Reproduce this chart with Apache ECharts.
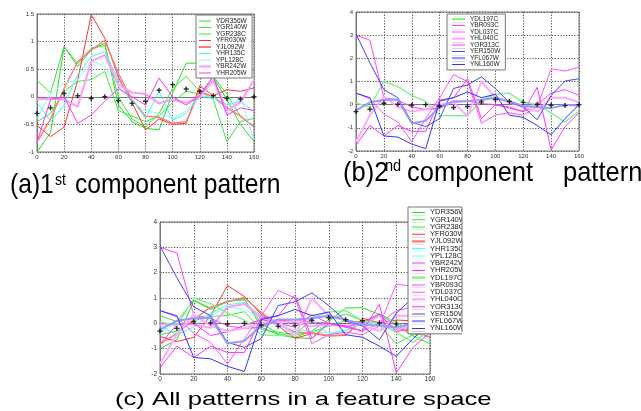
<!DOCTYPE html>
<html>
<head>
<meta charset="utf-8">
<script src="https://cdn.jsdelivr.net/npm/echarts@6/dist/echarts.min.js"></script>
<style>html,body{margin:0;padding:0;background:#fff}#c{width:641px;height:411px}</style>
</head>
<body>
<div id="c"></div>
<script>
// ---- data ----
const xs = [0,10,20,30,40,50,60,70,80,90,100,110,120,130,140,150,160];
const xTicks = [0,20,40,60,80,100,120,140,160];
const yTicksA = [-1,-0.5,0,0.5,1,1.5];
const yTicksB = [-2,-1,0,1,2,3,4];

const namesA = ['YDR356W','YGR140W','YGR238C','YFR030W','YJL092W','YHR135C','YPL128C','YBR242W','YHR205W'];
const namesB = ['YDL197C','YBR093C','YDL037C','YHL040C','YOR313C','YER150W','YFL067W','YNL160W'];

const YDR356W = [-1.0,-0.65,0.91,0.55,0.85,0.97,-0.15,-0.45,-0.57,-0.6,0.07,0.61,0.61,0.35,-0.05,-0.5,-0.81];
const YGR140W = [0.3,0.07,0.91,0.6,0.88,0.93,0.0,-0.4,-0.55,-0.3,0.15,0.37,0.1,-0.05,-0.81,-0.45,-0.39];
const YGR238C = [-0.45,-0.3,0.1,0.28,0.31,0.46,-0.25,-0.35,-0.45,-0.35,-0.1,0.1,0.05,0.37,0.05,-0.35,-0.55];
const YFR030W = [-0.52,-0.72,-0.55,0.3,1.49,1.06,0.35,-0.1,-0.6,-0.4,-0.5,-0.48,0.2,0.02,0.13,0.1,0.16];
const YJL092W = [-0.82,-0.4,0.15,0.64,0.85,1.02,0.42,-0.05,-0.35,-0.37,-0.48,-0.45,0.1,0.0,-0.2,-0.35,-0.54];
const YHR135C = [-0.1,-0.45,-0.15,0.4,0.73,0.82,0.3,-0.05,-0.39,0.1,-0.42,-0.3,0.0,0.0,-0.15,-0.08,-0.27];
const YPL128C = [-0.4,0.05,0.25,0.3,0.65,0.55,0.2,-0.1,-0.25,-0.3,-0.39,-0.25,0.02,0.0,-0.3,0.0,-0.78];
const YBR242W = [-0.05,-0.03,-0.05,-0.18,0.64,0.76,0.22,0.08,0.05,-0.12,-0.05,-0.11,0.0,0.3,-0.25,-0.1,0.31];
const YHR205W = [-0.82,-0.05,0.0,-0.48,-0.33,-0.08,0.15,0.0,-0.15,0.34,0.0,-0.15,0.02,0.37,-0.33,-0.2,-0.25];

const YDL197C = [0.07,-0.1,1.0,0.78,0.4,0.14,-0.46,-0.48,-0.48,0.2,0.45,0.5,0.1,0.0,-0.36,-0.75,-0.28];
const YBR093C = [3.0,2.78,0.3,0.2,-0.1,-0.2,-0.15,0.1,0.15,0.05,0.0,-0.1,-0.3,0.0,0.5,0.65,0.4];
const YDL037C = [0.5,0.25,-0.4,-0.75,-1.6,-0.6,0.3,1.3,1.0,-0.8,-0.45,-0.35,-0.45,-0.1,1.55,1.45,1.62];
const YHL040C = [-1.6,-0.45,0.35,-0.1,-0.3,-0.2,0.0,0.1,-0.5,1.0,0.3,0.1,-0.1,-0.3,0.3,0.3,0.1];
const YOR313C = [-1.75,-0.9,-1.35,-0.9,-1.15,-1.15,0.2,0.3,1.12,-0.6,0.0,-0.15,-0.3,0.75,-1.95,-0.95,-0.35];
const YER150W = [3.05,1.8,0.65,0.3,-0.75,-0.95,-0.6,0.7,0.85,1.2,0.7,0.1,-0.1,-0.65,0.4,1.02,1.12];
const YFL067W = [-0.25,0.1,0.2,0.22,-0.8,-0.7,-0.1,0.15,0.15,0.2,0.3,0.15,-0.05,-0.1,-0.15,0.0,-0.05];
const YNL160W = [0.5,0.3,-1.35,-1.4,-1.7,-1.9,0.15,0.3,0.55,0.3,0.45,-0.45,-0.55,-0.9,-1.3,-0.6,0.0];

const centroid = [-0.3,-0.2,0.06,0.02,-0.03,0.0,-0.07,-0.12,-0.08,0.12,0.22,0.14,0.1,0.02,-0.03,-0.04,0.0];

const values = {YDR356W,YGR140W,YGR238C,YFR030W,YJL092W,YHR135C,YPL128C,YBR242W,YHR205W,
  YDL197C,YBR093C,YDL037C,YHL040C,YOR313C,YER150W,YFL067W,YNL160W};

// ---- styles ----
const styleOf = {
  YDR356W:['#22dd22',1], YGR140W:['#44dd44',1], YGR238C:['#33ee33',1],
  YFR030W:['#ff3333',1], YJL092W:['#ff7a7a',1.4],
  YHR135C:['#44f4f4',1], YPL128C:['#88f8f8',1],
  YBR242W:['#ff99ff',2], YHR205W:['#ff33ff',1],
  YDL197C:['#88f088',1.4], YBR093C:['#ff44ff',1], YDL037C:['#ff55ff',1],
  YHL040C:['#ffaaff',2], YOR313C:['#ff33ff',1],
  YER150W:['#4444ff',1], YFL067W:['#9999ff',2], YNL160W:['#3333ff',1]
};

const FONT = '"Liberation Sans", Arial, sans-serif';
const grids = [
  {left:37, top:14, width:217, height:138},
  {left:356, top:12, width:223, height:139},
  {left:160, top:222, width:270, height:152}
].map(g => Object.assign(g, {show:true, borderColor:'#777', borderWidth:1, containLabel:false}));

function xAx(i, fs){
  return {gridIndex:i, type:'value', min:0, max:160, interval:20,
    axisLine:{show:true, lineStyle:{color:'#777', width:1}},
    axisTick:{show:true, inside:true, length:2, lineStyle:{color:'#777'}},
    axisLabel:{fontSize:fs, color:'#333', margin:2, fontFamily:FONT},
    splitLine:{show:true, lineStyle:{color:'#555', type:[1.2,1.6], width:1}}};
}
function yAx(i, mn, mx, step, fs){
  return {gridIndex:i, type:'value', min:mn, max:mx, interval:step,
    axisLine:{show:true, lineStyle:{color:'#777', width:1}},
    axisTick:{show:true, inside:true, length:2, lineStyle:{color:'#777'}},
    axisLabel:{fontSize:fs, color:'#333', margin:3, fontFamily:FONT},
    splitLine:{show:true, lineStyle:{color:'#555', type:[1.2,1.6], width:1}}};
}

const series = [];
function addLines(names, gi){
  names.forEach(n => {
    const [c,w] = styleOf[n];
    series.push({name:n, type:'line', xAxisIndex:gi, yAxisIndex:gi, symbol:'none',
      data: xs.map((x,k)=>[x, values[n][k]]),
      lineStyle:{color:c, width:w}, itemStyle:{color:c}, z:2, silent:true});
  });
  series.push({name:'centroid', type:'scatter', xAxisIndex:gi, yAxisIndex:gi,
    symbol:'path://M0,5L10,5M5,0L5,10', symbolSize:5,
    data: xs.map((x,k)=>[x, centroid[k]]),
    itemStyle:{color:'rgba(0,0,0,0)', borderColor:'#000', borderWidth:1.4}, z:3, silent:true});
}
addLines(namesA, 0);
addLines(namesB, 1);
addLines(namesA.concat(namesB), 2);

const ICON_THIN = 'path://M0,0L20,0L20,0.05L0,0.05Z M0,4.2L20,4.2L20,5.8L0,5.8Z M0,9.95L20,9.95L20,10L0,10Z';
const ICON_THICK = 'path://M0,0L20,0L20,0.05L0,0.05Z M0,3.2L20,3.2L20,6.8L0,6.8Z M0,9.95L20,9.95L20,10L0,10Z';
function legend(names, left, top, pad, iw, fs, lh, gap){
  return {orient:'vertical', left, top, padding:pad, itemWidth:iw, itemHeight:6, itemGap:gap,
    symbolKeepAspect:false, selectedMode:false, backgroundColor:'#fff', borderColor:'#777', borderWidth:1, borderRadius:0,
    itemStyle:{borderWidth:0},
    textStyle:{fontSize:fs, lineHeight:lh, color:'#222', fontFamily:FONT},
    data:names.map(n => ({name:n, icon: styleOf[n][1] >= 1.4 ? ICON_THICK : ICON_THIN}))};
}

const txt = (x, y, text, fs, sx) => ({type:'text', x, y, scaleX:sx, z:10,
  style:{text, font: fs+'px '+FONT, fill:'#000', textVerticalAlign:'middle', verticalAlign:'middle', textAlign:'left', align:'left'}});

const option = {
  animation:false,
  backgroundColor:'#fff',
  grid: grids,
  xAxis:[xAx(0,6), xAx(1,6), xAx(2,6.5)],
  yAxis:[yAx(0,-1,1.5,0.5,6), yAx(1,-2,4,1,6), yAx(2,-2,4,1,6.5)],
  legend:[
    legend(namesA, 196, 15, [2.5,5,1.5,3], 12, 6.5, 6.4, -0.5),
    legend(namesB, 447, 14, [1.6,5,1.8,5], 13, 6.5, 6.3, -0.5),
    legend(namesA.concat(namesB), 408, 207, [1.4,4,1.4,4], 13, 7.5, 7.2, -0.75)
  ],
  series,
  graphic:[
    {type:'rect', z:100, shape:{x:462, y:203, width:179, height:150}, style:{fill:'#fff'}},
    {type:'line', z:101, shape:{x1:462, y1:207, x2:462, y2:332}, style:{stroke:'#777', lineWidth:1}},
    txt(10, 185.3, '(a)1', 28, 0.88),
    txt(55, 180.5, 'st', 16, 0.88),
    txt(75, 185.3, 'component pattern', 28, 0.88),
    txt(343, 173.3, '(b)2', 28, 0.91),
    txt(385, 166.5, 'nd', 16, 0.91),
    txt(407, 173.3, 'component', 28, 0.91),
    txt(563, 173.3, 'pattern', 28, 0.91),
    txt(115, 399.6, '(c) All patterns in a feature space', 18.6, 1.38)
  ]
};
const chart = echarts.init(document.getElementById('c'), null, {renderer:'canvas'});
chart.setOption(option);
</script>
</body>
</html>
